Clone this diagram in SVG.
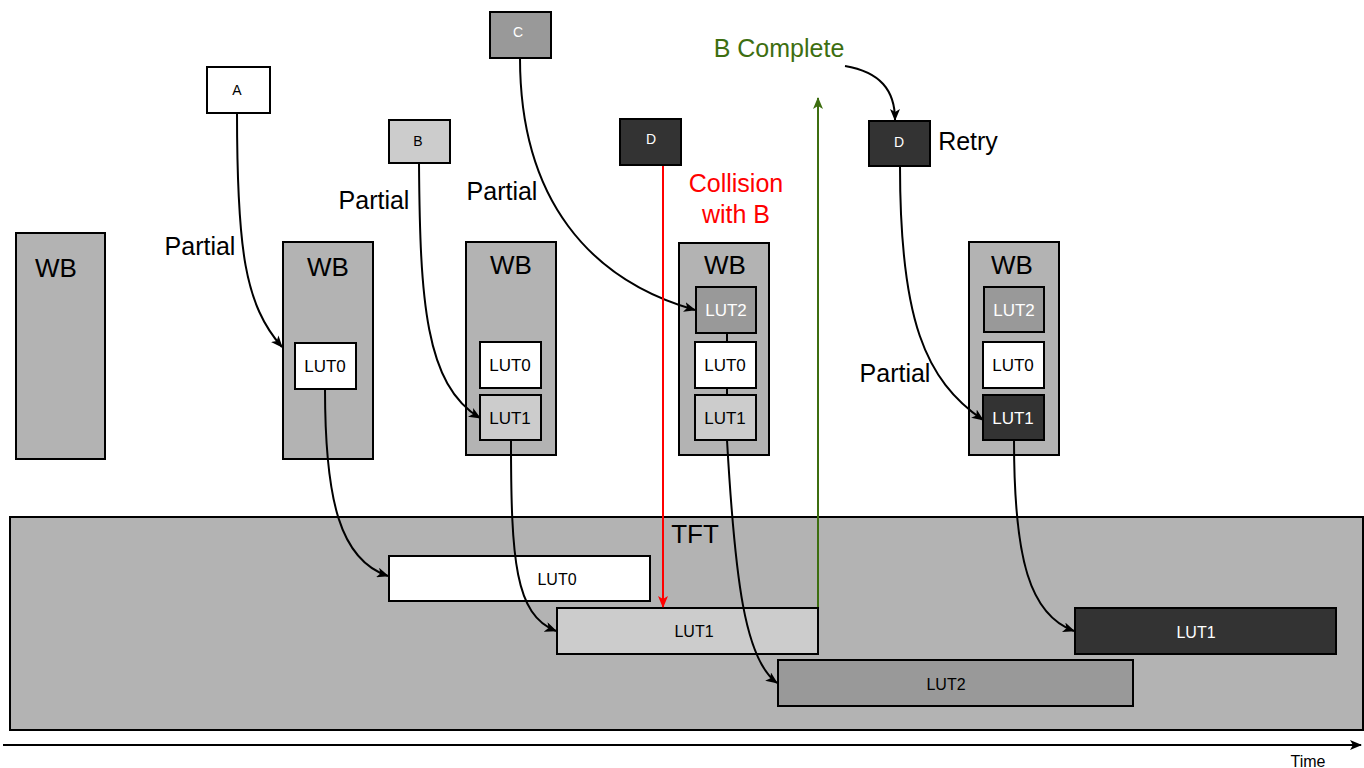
<svg xmlns="http://www.w3.org/2000/svg" width="1364" height="768" viewBox="0 0 1364 768">
<defs>
<marker id="ah" viewBox="0 0 12 10" refX="11" refY="5" markerWidth="12" markerHeight="10" markerUnits="userSpaceOnUse" orient="auto">
<path d="M0,0 L12,5 L0,10 L3,5 z" fill="#000"/>
</marker>
<marker id="ahr" viewBox="0 0 12 10" refX="11" refY="5" markerWidth="12" markerHeight="10" markerUnits="userSpaceOnUse" orient="auto">
<path d="M0,0 L12,5 L0,10 L3,5 z" fill="#ff0000"/>
</marker>
<marker id="ahg" viewBox="0 0 12 10" refX="11" refY="5" markerWidth="12" markerHeight="10" markerUnits="userSpaceOnUse" orient="auto">
<path d="M0,0 L12,5 L0,10 L3,5 z" fill="#3d6e10"/>
</marker>
</defs>
<style>
text{font-family:"Liberation Sans",Arial,sans-serif;text-anchor:middle}
.wb{fill:#b3b3b3;stroke:#000;stroke-width:2}
.box{stroke:#000;stroke-width:2}
.w{fill:#fff}.l{fill:#cccccc}.m{fill:#999999}.d{fill:#333333}
.big{font-size:26px}
.lut{font-size:17px}
.sm{font-size:14px}
.tl{font-size:16px}
.wt{fill:#fff}
.lbl{font-size:25px;fill:#000}
.con{fill:none;stroke:#000;stroke-width:2}
</style>
<g id="tft">
<rect class="wb" x="10" y="517" width="1353" height="213"/>
<text class="big" x="695" y="543">TFT</text>
</g>
<g id="wb0">
<rect class="wb" x="16" y="233" width="89" height="226"/>
<text class="big" x="56" y="277">WB</text>
</g>
<g id="wb1">
<rect class="wb" x="283" y="242" width="90" height="217"/>
<text class="big" x="328" y="276">WB</text>
<rect class="box w" x="295" y="343" width="61" height="46"/>
<text class="lut" x="325" y="372">LUT0</text>
</g>
<g id="wb2">
<rect class="wb" x="466" y="242" width="90" height="213"/>
<text class="big" x="511" y="274">WB</text>
<rect class="box w" x="480" y="342" width="61" height="46"/>
<text class="lut" x="510" y="371">LUT0</text>
<rect class="box l" x="480" y="395" width="61" height="45"/>
<text class="lut" x="510" y="424">LUT1</text>
</g>
<g id="wb3">
<rect class="wb" x="679" y="243" width="90" height="212"/>
<text class="big" x="725" y="274">WB</text>
<line x1="727" y1="333" x2="727" y2="342" stroke="#000" stroke-width="2"/>
<line x1="727" y1="388" x2="727" y2="395" stroke="#000" stroke-width="2"/>
<rect class="box m" x="696" y="287" width="60" height="46"/>
<text class="lut wt" x="726" y="316">LUT2</text>
<rect class="box w" x="695" y="342" width="61" height="46"/>
<text class="lut" x="725" y="371">LUT0</text>
<rect class="box l" x="695" y="395" width="61" height="45"/>
<text class="lut" x="725" y="424">LUT1</text>
</g>
<g id="wb4">
<rect class="wb" x="969" y="242" width="90" height="213"/>
<text class="big" x="1012" y="274">WB</text>
<rect class="box m" x="984" y="287" width="60" height="45"/>
<text class="lut wt" x="1014" y="316">LUT2</text>
<rect class="box w" x="983" y="342" width="61" height="46"/>
<text class="lut" x="1013" y="371">LUT0</text>
<rect class="box d" x="983" y="395" width="61" height="45"/>
<text class="lut wt" x="1013" y="424">LUT1</text>
</g>
<g id="nA"><rect class="box w" x="207" y="67" width="63" height="46"/><text class="sm" x="237" y="95">A</text></g>
<g id="nB"><rect class="box l" x="389" y="120" width="61" height="43"/><text class="sm" x="418" y="146">B</text></g>
<g id="nC"><rect class="box m" x="490" y="12" width="61" height="46"/><text class="sm wt" x="518" y="37">C</text></g>
<g id="nD"><rect class="box d" x="620" y="119" width="61" height="46"/><text class="sm wt" x="651" y="144">D</text></g>
<g id="nD2"><rect class="box d" x="869" y="121" width="61" height="45"/><text class="sm wt" x="899" y="147">D</text></g>
<g id="tlut0"><rect class="box w" x="389" y="556" width="261" height="45"/><text class="tl" x="557" y="585">LUT0</text></g>
<g id="tlut1"><rect class="box l" x="557" y="608" width="261" height="46"/><text class="tl" x="694" y="637">LUT1</text></g>
<g id="tlut2"><rect class="box m" x="778" y="660" width="355" height="46"/><text class="tl" x="946" y="690">LUT2</text></g>
<g id="tlut1b"><rect class="box d" x="1075" y="608" width="261" height="46"/><text class="tl wt" x="1196" y="638">LUT1</text></g>
<g id="labels">
<text class="lbl" x="200" y="255">Partial</text>
<text class="lbl" x="374" y="209">Partial</text>
<text class="lbl" x="502" y="200">Partial</text>
<text class="lbl" x="895" y="382">Partial</text>
<text class="lbl" x="968" y="150">Retry</text>
<text class="lbl" x="736" y="192" style="fill:#ff0000">Collision</text>
<text class="lbl" x="736" y="223" style="fill:#ff0000">with B</text>
<text class="lbl" x="779" y="57" style="fill:#3d6e10">B Complete</text>
<text x="1308" y="767" style="font-size:16px">Time</text>
</g>
<g id="connectors">
<path class="con" d="M237,113 C237,250 245,305 282,347" marker-end="url(#ah)"/>
<path class="con" d="M419,163 C420,300 425,385 480,418" marker-end="url(#ah)"/>
<path class="con" d="M520,58 C520,200 590,280 695,310" marker-end="url(#ah)"/>
<path class="con" d="M900,166 C900,320 925,380 983,420" marker-end="url(#ah)"/>
<path class="con" d="M325,389 C325,500 340,560 388,576" marker-end="url(#ah)"/>
<path class="con" d="M511,440 C511,560 515,615 556,631" marker-end="url(#ah)"/>
<path class="con" d="M727,440 C735,580 745,660 777,683" marker-end="url(#ah)"/>
<path class="con" d="M1014,440 C1014,560 1030,615 1074,631" marker-end="url(#ah)"/>
<path class="con" d="M845,66 C880,72 895,90 895,120" marker-end="url(#ah)"/>
<line x1="663" y1="166" x2="663" y2="607" stroke="#ff0000" stroke-width="2" marker-end="url(#ahr)"/>
<line x1="818" y1="607" x2="818" y2="98" stroke="#3d6e10" stroke-width="2" marker-end="url(#ahg)"/>
<line x1="3" y1="745" x2="1361" y2="745" stroke="#000" stroke-width="2" marker-end="url(#ah)"/>
</g>
</svg>
